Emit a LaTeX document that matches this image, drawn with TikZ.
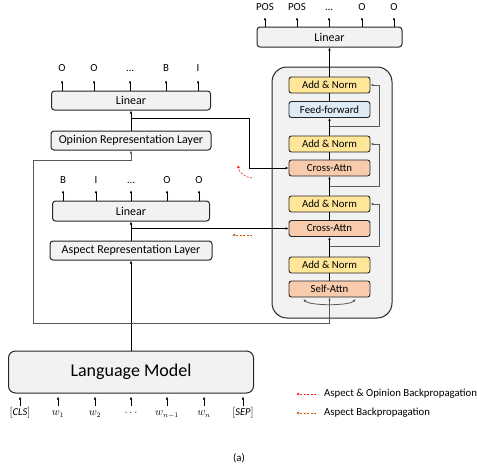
\documentclass[tikz,border=0pt]{standalone}
\usepackage{fontspec}
\setmainfont{Carlito}
\usetikzlibrary{arrows.meta,calc}
\definecolor{normyellow}{HTML}{FFE699}
\definecolor{attnpeach}{HTML}{F8CBAD}
\definecolor{ffnblue}{HTML}{DDEBF7}
\definecolor{panelgray}{HTML}{F2F2F2}
\definecolor{bpbrown}{HTML}{C55A11}
\begin{document}
\begin{tikzpicture}[x=1pt, y=-1pt,
    every node/.style={inner sep=0pt},
    box/.style={draw=black!85, line width=1pt, rounded corners=3pt, fill=panelgray, font=\fontsize{12}{14}\selectfont},
    layer/.style={draw=black!85, line width=0.9pt, rounded corners=2.5pt, minimum width=81pt, minimum height=16pt, font=\fontsize{10.8}{13}\selectfont},
    lab/.style={font=\fontsize{10.8}{13}\selectfont, text height=7pt, text depth=0pt, anchor=base},
    link/.style={-{Latex[length=3pt,width=2.6pt]}, line width=0.8pt},
    res/.style={link, draw=black!65},
    bp/.style={dash pattern=on 2pt off 1.5pt, line width=0.7pt, -{Latex[length=3pt,width=3pt]}}]

\useasboundingbox (0,0) rectangle (477,472);

% left column
\node[box, minimum width=159pt, minimum height=19pt] (olin) at (131,100.5) {Linear};
\node[box, minimum width=160pt, minimum height=19pt] (orep) at (131,140.5) {Opinion Representation Layer};
\node[box, minimum width=157pt, minimum height=20pt] (alin) at (131,211) {Linear};
\node[box, minimum width=162pt, minimum height=19pt] (arep) at (131,250.5) {Aspect Representation Layer};
\node[box, minimum width=245pt, minimum height=42pt, rounded corners=7pt, font=\fontsize{18}{22}\selectfont] (lm) at (131,372) {Language Model};

% decoder column
\node[box, minimum width=145pt, minimum height=20pt] (tlin) at (329.5,37) {Linear};
\node[box, minimum width=120pt, minimum height=251pt, rounded corners=15pt] (enc) at (332,192.5) {};
\node[layer, fill=normyellow] (an1) at (329.5,85) {Add \& Norm};
\node[layer, fill=ffnblue] (ff) at (329.5,109.5) {Feed-forward};
\node[layer, fill=normyellow] (an2) at (329.5,144) {Add \& Norm};
\node[layer, fill=attnpeach] (ca1) at (329.5,168) {Cross-Attn};
\node[layer, fill=normyellow] (an3) at (329.5,204) {Add \& Norm};
\node[layer, fill=attnpeach] (ca2) at (329.5,228.5) {Cross-Attn};
\node[layer, fill=normyellow] (an4) at (329.5,265) {Add \& Norm};
\node[layer, fill=attnpeach] (sa) at (329.5,289) {Self-Attn};

\draw[line width=0.8pt] (sa.north) -- (an4.south);
\draw[link] (an4.north) -- (ca2.south);
\draw[line width=0.8pt] (ca2.north) -- (an3.south);
\draw[link] (an3.north) -- (ca1.south);
\draw[line width=0.8pt] (ca1.north) -- (an2.south);
\draw[link] (an2.north) -- (ff.south);
\draw[line width=0.8pt] (ff.north) -- (an1.south);
\draw[link] (an1.north) -- (tlin.south);

% residuals
\draw[res] ($(an2.north)!.5!(ff.south)$) -- ++(49.5,0) |- (an1.east);
\draw[res] ($(ca1.south)!.5!(an3.north)$) -- ++(49.5,0) |- (an2.east);
\draw[res] ($(ca2.south)!.5!(an4.north)$) -- ++(49.5,0) |- (an3.east);
\draw[res, {Latex[length=3pt,width=2.6pt]}-{Latex[length=3pt,width=2.6pt]}]
    ($(sa.south)+(-26,1.5)$) .. controls +(6,7) and +(-6,7) .. ($(sa.south)+(26,1.5)$);

% encoder feeds
\draw[link, line width=0.9pt] (lm.north) -- (arep.south);
\coordinate (fork) at (lm.north |- 0,323.5);
\draw[res] (fork) -| (sa.south);
\draw[res] (fork) -| (33,160) -| (orep.south);
\draw[link] (arep.north) -- (alin.south);
\draw[link] (orep.north) -- (olin.south);
\draw[link] (arep.north |- ca2.west) -- (ca2.west);
\coordinate (osplit) at (orep.north |- 0,118);
\draw[link] (osplit) -- ++(118,0) |- (ca1.west);

% tag outputs
\foreach \x/\t [count=\i] in {62/O,94/O,130/\ldots,166/B,198/I}{
  \node[lab] (oo\i) at (\x,71.5) {\t};
  \draw[link, shorten >=8.5pt] (olin.north -| oo\i) -- (oo\i.south);
}
\foreach \x/\t [count=\i] in {63/B,96/I,131/\ldots,167/O,199/O}{
  \node[lab] (ao\i) at (\x,183) {\t};
  \draw[link, shorten >=7pt] (alin.north -| ao\i) -- (ao\i.south);
}
\foreach \x/\t [count=\i] in {265/POS,297/POS,329/\ldots,362/O,394/O}{
  \node[lab] (po\i) at (\x,10) {\t};
  \draw[link, shorten >=7pt] (tlin.north -| po\i) -- (po\i.south);
}

% inputs
\foreach \x/\t [count=\i] in {20/{$[\mathit{CLS}]$},58/{$w_1$},95/{$w_2$},131/{$\cdots$},167/{$w_{n-1}$},204/{$w_n$},243/{$[\mathit{SEP}]$}}{
  \node[lab, text height=8pt, font=\fontsize{10.5}{13}\selectfont] (in\i) at (\x,415.5) {\t};
  \draw[link, shorten <=1.5pt, shorten >=3pt] (in\i.north) -- (in\i.north |- lm.south);
}

% backpropagation marks
\coordinate (rbp) at (252,178);
\draw[bp, red!85] (rbp) .. controls (244,177) and (239,172) .. (238,165);
\coordinate (bbp) at (252,235);
\draw[bp, bpbrown] (bbp) -- ++(-20,0);

% legend
\node[font=\fontsize{10.8}{13}\selectfont, anchor=west] (legao) at (324,394) {Aspect \& Opinion Backpropagation};
\node[font=\fontsize{10.8}{13}\selectfont, anchor=west] (lega) at (324,413) {Aspect Backpropagation};
\draw[bp, red!85] ([xshift=-8pt]legao.west) -- ++(-20,0);
\draw[bp, bpbrown] ([xshift=-8pt]lega.west) -- ++(-20,0);

\node[font=\fontsize{10.8}{13}\selectfont] (cap) at (239,458) {(a)};
\end{tikzpicture}
\end{document}
